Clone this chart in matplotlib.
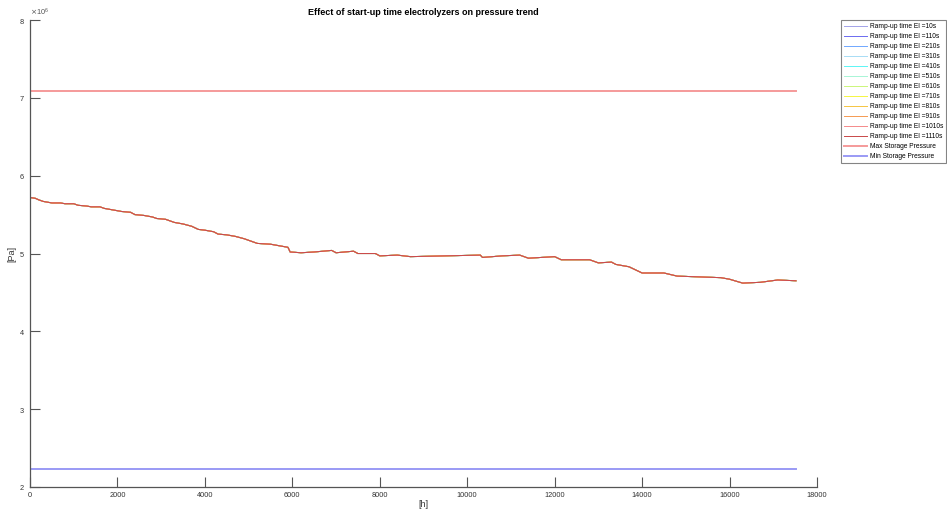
import matplotlib
matplotlib.use("Agg")
import matplotlib.pyplot as plt
from matplotlib.ticker import ScalarFormatter, MultipleLocator
import numpy as np

plt.rcParams['font.family'] = ['Liberation Sans', 'DejaVu Sans']

# Simulation time [h] and storage pressure [Pa] (same for every ramp-up time)
hours = [0, 120, 200, 300, 500, 700, 800, 1000, 1100, 1300, 1400, 1600, 1700,
         1900, 2100, 2300, 2400, 2600, 2800, 2900, 3100, 3300, 3500, 3700,
         3850, 4000, 4200, 4300, 4500, 4700, 4900, 5100, 5200, 5500, 5800,
         5900, 5950, 6200, 6500, 6900, 7000, 7200, 7400, 7500, 7900, 8000,
         8400, 8700, 9500, 10300, 10350, 10800, 11200, 11400, 12000, 12150,
         12800, 13000, 13300, 13400, 13700, 14000, 14500, 14800, 15300,
         15800, 16000, 16300, 16700, 17100, 17520]
pressure_mpa = [5.72, 5.71, 5.69, 5.67, 5.65, 5.65, 5.64, 5.64, 5.62, 5.61,
                5.60, 5.60, 5.58, 5.56, 5.54, 5.53, 5.50, 5.49, 5.47, 5.45,
                5.44, 5.40, 5.38, 5.35, 5.31, 5.30, 5.28, 5.25, 5.24, 5.22,
                5.19, 5.15, 5.13, 5.12, 5.09, 5.08, 5.02, 5.01, 5.02, 5.04,
                5.01, 5.02, 5.03, 5.00, 5.00, 4.97, 4.98, 4.96, 4.97, 4.98,
                4.95, 4.97, 4.98, 4.94, 4.96, 4.92, 4.92, 4.88, 4.89, 4.86,
                4.83, 4.75, 4.75, 4.71, 4.70, 4.69, 4.67, 4.62, 4.63, 4.66,
                4.65]

ramp_up_times = [10, 110, 210, 310, 410, 510, 610, 710, 810, 910, 1010, 1110]
ramp_colors = ['#a3a3e8', '#6b6bf0', '#70a8ff', '#a8dcf5', '#5cf5f5',
               '#a8f5d6', '#ccf57a', '#f5f542', '#f5c542', '#f59a52',
               '#f58a8a', '#c84848']

max_pressure = 7.09e6
min_pressure = 2.23e6

t = np.array(hours, dtype=float)
p = np.array(pressure_mpa) * 1e6

fig = plt.figure(figsize=(9.47, 5.15), dpi=100)
ax = fig.add_axes([0.0317, 0.0544, 0.831, 0.9066])

# All ramp-up cases lie on top of each other; the last one drawn stays visible
for rt, col in zip(ramp_up_times, ramp_colors):
    ax.plot(t, p, color=col, lw=0.7, label=f"Ramp-up time El ={rt}s")
ax.plot([t[0], t[-1]], [max_pressure, max_pressure], color='#f59a9a', lw=1.4,
        label='Max Storage Pressure')
ax.plot([t[0], t[-1]], [min_pressure, min_pressure], color='#9a9af5', lw=1.4,
        label='Min Storage Pressure')

ax.set_xlim(0, 18000)
ax.set_ylim(2e6, 8e6)
ax.xaxis.set_major_locator(MultipleLocator(2000))
ax.yaxis.set_major_locator(MultipleLocator(1e6))
fmt = ScalarFormatter(useMathText=True)
fmt.set_powerlimits((0, 0))
ax.yaxis.set_major_formatter(fmt)

for s in ('top', 'right'):
    ax.spines[s].set_visible(False)
for s in ('left', 'bottom'):
    ax.spines[s].set_color('#555555')
    ax.spines[s].set_linewidth(0.9)
ax.tick_params(direction='in', length=7, width=0.8, colors='#555555',
               labelsize=5.3, labelcolor='#333333')
ax.yaxis.get_offset_text().set_fontsize(5.3)
ax.yaxis.get_offset_text().set_color('#555555')

ax.set_title('Effect of start-up time electrolyzers on pressure trend',
             fontsize=6.5, fontweight='bold', pad=4)
ax.set_xlabel('[h]', fontsize=6.5, labelpad=1, color='#333333')
ax.set_ylabel('[Pa]', fontsize=6.5, labelpad=2, color='#333333')

leg = ax.legend(loc='upper left', bbox_to_anchor=(1.0305, 1.0), fontsize=4.8,
                frameon=True, fancybox=False, edgecolor='#666666',
                handlelength=3.4, handletextpad=0.45, labelspacing=0.45,
                borderpad=0.45, borderaxespad=0)
leg.get_frame().set_linewidth(0.8)

fig.savefig('out.png', dpi=100)
